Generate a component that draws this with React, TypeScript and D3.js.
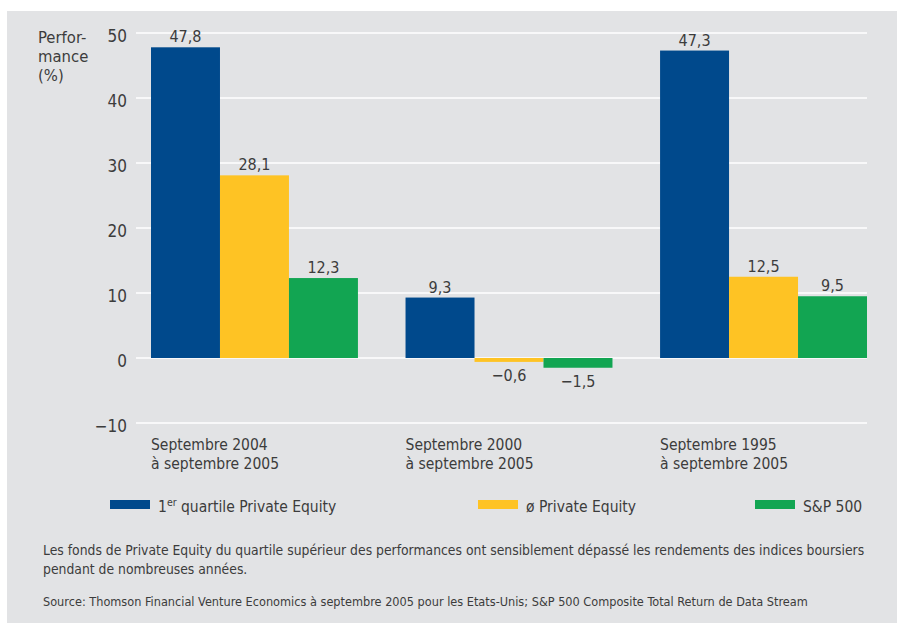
import React from "react";
import * as d3 from "d3";

// chart data
const categories = ["Septembre 2004|à septembre 2005", "Septembre 2000|à septembre 2005", "Septembre 1995|à septembre 2005"];
const seriesKeys = ["quartile", "average", "sp500"];
const quartileValues = [47.8, 9.3, 47.3];
const averageValues = [28.1, -0.6, 12.5];
const spValues = [12.3, -1.5, 9.5];
const yTicks = [-10, 0, 10, 20, 30, 40, 50];
const colours = ["#00498c", "#fec324", "#12a552"];
const legendLabels = ["1er quartile Private Equity", "ø Private Equity", "S&P 500"];

const W = 897;
const H = 623;
const font = "'Liberation Sans Narrow', 'DejaVu Sans Condensed', 'Roboto', sans-serif";
const textColour = "#3c3c3c";

const locale = d3.formatLocale({ decimal: ",", thousands: ".", grouping: [3], currency: ["", "€"], minus: "\u2212" });
const fmtValue = locale.format(".1f");
const fmtTick = locale.format("d");

const y = d3.scaleLinear().domain([-10, 50]).range([423, 33]);
const x0 = d3.scaleBand<number>().domain(d3.range(categories.length)).range([151, 867]).paddingInner(0.187).paddingOuter(0);
const x1 = d3.scaleBand<string>().domain(seriesKeys).range([0, x0.bandwidth()]).padding(0);

const rows = categories.map((c, i) => ({
  label: c.split("|"),
  values: [quartileValues[i], averageValues[i], spValues[i]],
}));

// legend swatch positions
const legendX = [110, 478, 755];

export default function App() {
  return (
    <svg width={W} height={H} viewBox={`0 0 ${W} ${H}`} style={{ position: "absolute", left: 0, top: 0 }} fontFamily={font}>
      <rect x={0} y={0} width={W} height={H} fill="#ffffff" />
      <rect x={7} y={11} width={W - 7} height={H - 11} fill="#e2e3e5" />

      {/* grid + y ticks */}
      {yTicks.map((t) => (
        <g key={t}>
          <line x1={136} x2={867} y1={y(t)} y2={y(t)} stroke="#ffffff" strokeWidth={1.6} />
          <text x={127} y={y(t) + 9} textAnchor="end" fontSize={17} fill={textColour}>{fmtTick(t)}</text>
        </g>
      ))}

      {/* y title */}
      <text x={38} fontSize={16.5} fill={textColour}>
        <tspan x={38} y={43}>Perfor-</tspan>
        <tspan x={38} y={62}>mance</tspan>
        <tspan x={38} y={81}>(%)</tspan>
      </text>

      {/* bars */}
      {rows.map((r, i) => (
        <g key={i} transform={`translate(${x0(i)},0)`}>
          {r.values.map((v, j) => {
            const bx = x1(seriesKeys[j]) as number;
            const top = y(Math.max(0, v));
            const bottom = y(Math.min(0, v));
            return (
              <g key={j}>
                <rect x={bx} y={top} width={x1.bandwidth()} height={bottom - top} fill={colours[j]} />
                <text
                  x={bx + x1.bandwidth() / 2}
                  y={v >= 0 ? top - 5 : bottom + 19}
                  textAnchor="middle"
                  fontSize={16}
                  fill={textColour}
                >
                  {fmtValue(v)}
                </text>
              </g>
            );
          })}
          <text fontSize={15.5} fill={textColour}>
            <tspan x={0} y={450}>{r.label[0]}</tspan>
            <tspan x={0} y={469}>{r.label[1]}</tspan>
          </text>
        </g>
      ))}

      {/* legend */}
      {legendLabels.map((l, j) => (
        <g key={l} transform={`translate(${legendX[j]},500)`}>
          <rect x={0} y={0} width={40} height={9} fill={colours[j]} />
          <text x={48} y={12} fontSize={15.5} fill={textColour}>
            {j === 0 ? (
              <>
                1<tspan fontSize={10.5} dy={-6}>er</tspan>
                <tspan dy={6}> quartile Private Equity</tspan>
              </>
            ) : (
              l
            )}
          </text>
        </g>
      ))}

      {/* notes */}
      <text x={43} fontSize={13.8} fill={textColour}>
        <tspan x={43} y={555}>Les fonds de Private Equity du quartile supérieur des performances ont sensiblement dépassé les rendements des indices boursiers</tspan>
        <tspan x={43} y={574}>pendant de nombreuses années.</tspan>
      </text>
      <text x={43} y={606} fontSize={12.6} fill={textColour}>
        Source: Thomson Financial Venture Economics à septembre 2005 pour les Etats-Unis; S&amp;P 500 Composite Total Return de Data Stream
      </text>
    </svg>
  );
}
